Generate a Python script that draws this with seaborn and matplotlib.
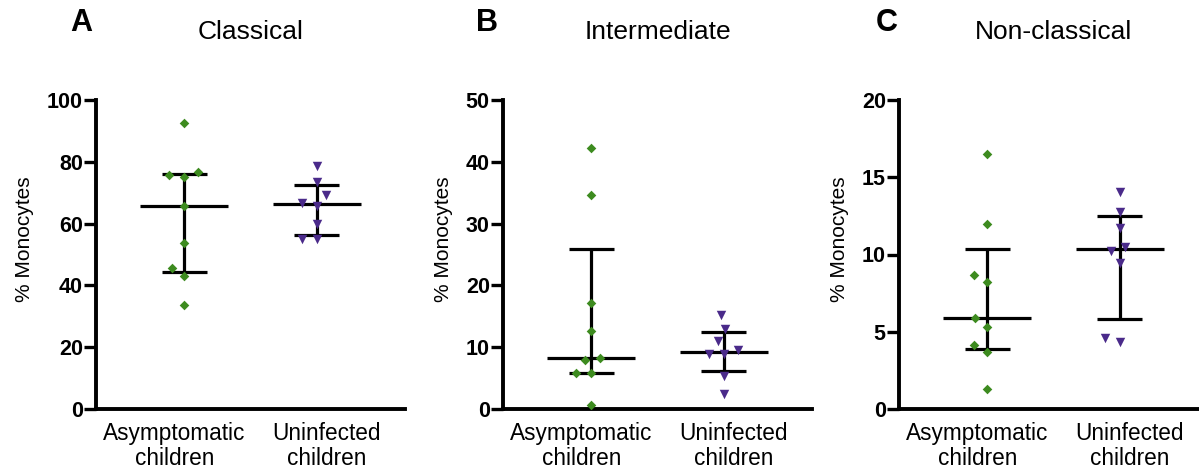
import numpy as np
import pandas as pd
import matplotlib
matplotlib.use("Agg")
import matplotlib.pyplot as plt
from matplotlib.transforms import ScaledTranslation
import seaborn as sns

# --- Data ---
groups = ["Asymptomatic\nchildren", "Uninfected\nchildren"]
panels = ["Classical", "Intermediate", "Non-classical"]
letters = ["A", "B", "C"]

classical_asym = [92.5, 76.7, 75.6, 75.0, 65.6, 53.7, 45.5, 42.9, 33.7]
classical_uninf = [78.5, 73.6, 69.2, 66.8, 65.7, 59.9, 55.1, 54.9]
intermediate_asym = [42.2, 34.7, 17.1, 12.6, 8.2, 8.0, 5.9, 5.9, 0.6]
intermediate_uninf = [15.2, 13.0, 11.0, 9.6, 8.9, 8.9, 5.3, 2.5]
nonclassical_asym = [16.5, 12.0, 8.67, 8.2, 5.87, 5.33, 4.14, 3.69, 1.31]
nonclassical_uninf = [14.04, 12.75, 11.7, 10.5, 10.2, 9.45, 4.6, 4.36]

y_max = [100, 50, 20]
y_step = [20, 10, 5]

panel_data = [
    (classical_asym, classical_uninf),
    (intermediate_asym, intermediate_uninf),
    (nonclassical_asym, nonclassical_uninf),
]

green = "#3d8b1f"
purple = "#4a2a8a"

sns.set_theme(style="ticks")
plt.rcParams["font.family"] = ["Liberation Sans", "DejaVu Sans"]
plt.rcParams["text.color"] = "black"
plt.rcParams["axes.labelcolor"] = "black"

W, H = 1199, 471
fig = plt.figure(figsize=(W / 100, H / 100), dpi=100)

lefts = [96, 503, 899]
letter_x = [81, 487, 887]

for i, (asym, uninf) in enumerate(panel_data):
    ax = fig.add_axes([lefts[i] / W, 62 / H, 309 / W, 309 / H])

    df = pd.DataFrame({
        "group": [groups[0]] * len(asym) + [groups[1]] * len(uninf),
        "value": asym + uninf,
    })

    # points (swarm spreads the ties sideways, like the original)
    sns.swarmplot(data=df[df["group"] == groups[0]], x="group", y="value",
                  order=groups, color=green, marker="D", size=4.9,
                  linewidth=5.4, edgecolor=(0, 0, 0, 0), zorder=3, ax=ax)
    sns.swarmplot(data=df[df["group"] == groups[1]], x="group", y="value",
                  order=groups, color=purple, marker="v", size=6.8,
                  linewidth=3.4, edgecolor=(0, 0, 0, 0), zorder=3, ax=ax)

    # median with interquartile range
    for pos, vals in enumerate([asym, uninf]):
        q1, med, q3 = np.percentile(vals, [25, 50, 75], method="weibull")
        ax.hlines(med, pos - 0.33, pos + 0.33, color="black", lw=2.3, zorder=2)
        ax.hlines([q1, q3], pos - 0.17, pos + 0.17, color="black", lw=2.3, zorder=2)
        ax.vlines(pos, q1, q3, color="black", lw=2.3, zorder=2)

    ax.set_xlim(-0.665, 1.665)
    ax.set_ylim(0, y_max[i])
    ax.set_yticks(np.arange(0, y_max[i] + 1, y_step[i]))
    ax.set_xlabel("")
    ax.set_ylabel("% Monocytes", fontsize=15, labelpad=9, color="black")
    ax.yaxis.label.set_y(0.5 + 15 / 309)

    sns.despine(ax=ax)
    for side in ["left", "bottom"]:
        ax.spines[side].set_linewidth(2.8)
        ax.spines[side].set_color("black")
    ax.tick_params(axis="y", length=8.5, width=2.4, pad=1, labelsize=15.5,
                   colors="black")
    ax.tick_params(axis="x", length=0, pad=9.5, labelsize=16.3, colors="black")
    for lbl in ax.get_yticklabels():
        lbl.set_fontweight("bold")
    # category labels sit a little wider apart than the data columns
    for lbl, dx in zip(ax.get_xticklabels(), [-10, 10]):
        lbl.set_linespacing(1.12)
        lbl.set_transform(lbl.get_transform()
                          + ScaledTranslation(dx / 100, 0, fig.dpi_scale_trans))

    ax.text(0.5, (409 - 32) / 309, panels[i], transform=ax.transAxes,
            ha="center", va="center", fontsize=19)
    fig.text(letter_x[i] / W, 1 - 23 / H, letters[i], ha="center", va="center",
             fontsize=22, fontweight="bold")

fig.savefig("out.png", dpi=100)
